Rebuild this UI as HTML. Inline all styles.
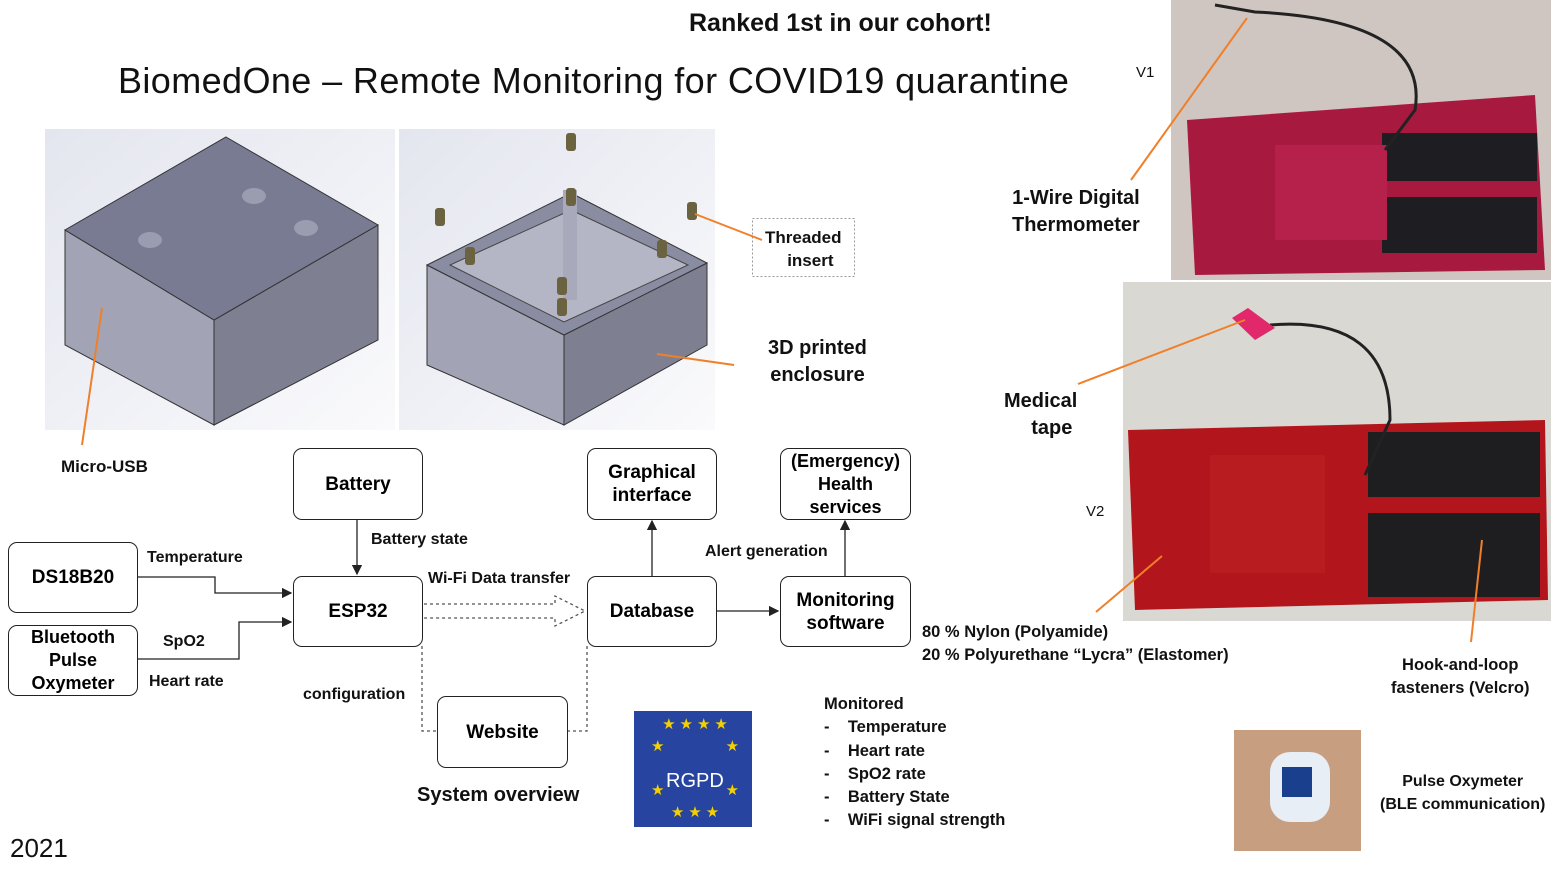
<!DOCTYPE html>
<html><head><meta charset="utf-8"><style>
body{margin:0;width:1551px;height:873px;background:#fff;position:relative;overflow:hidden;font-family:"Liberation Sans",sans-serif;}
.t{position:absolute;white-space:nowrap;color:#111}
.b{position:absolute;border:1.3px solid #222;border-radius:9px;display:flex;align-items:center;justify-content:center;text-align:center;font-weight:bold;font-size:19px;line-height:23px;background:#fff;box-sizing:border-box}
.l{font-weight:bold;font-size:16px}
</style></head><body>
<svg width="1551" height="873" style="position:absolute;left:0;top:0">
<defs>
<linearGradient id="bg" x1="0" y1="0" x2="1" y2="1"><stop offset="0" stop-color="#e4e6ef"/><stop offset="1" stop-color="#fafafc"/></linearGradient>
<marker id="a" markerWidth="8" markerHeight="8" refX="7" refY="4" orient="auto"><path d="M0,0L8,4L0,8z" fill="#222"/></marker>
</defs>
<rect x="45" y="129" width="350" height="301" fill="url(#bg)"/>
<rect x="399" y="129" width="316" height="301" fill="url(#bg)"/>
<polygon points="65,230 214,320 214,425 65,345" fill="#a2a4b6" stroke="#333"/>
<polygon points="214,320 378,225 378,340 214,425" fill="#7e8092" stroke="#333"/>
<polygon points="226,137 378,225 214,320 65,230" fill="#797b93" stroke="#333"/>
<ellipse cx="254" cy="196" rx="12" ry="8" fill="#9a9cb0"/><ellipse cx="306" cy="228" rx="12" ry="8" fill="#9a9cb0"/><ellipse cx="150" cy="240" rx="12" ry="8" fill="#9a9cb0"/>
<polygon points="427,265 564,335 564,425 427,365" fill="#a2a4b6" stroke="#333"/>
<polygon points="564,335 707,263 707,345 564,425" fill="#7e8092" stroke="#333"/>
<polygon points="571,193 707,263 564,335 427,265" fill="#8a8ca2" stroke="#333"/>
<polygon points="571,210 688,265 564,322 450,265" fill="#b4b6c6" stroke="#444"/>
<rect x="563" y="190" width="14" height="110" fill="#a8aabc"/>
<g fill="#6b6240"><rect x="566" y="133" width="10" height="18" rx="3"/><rect x="435" y="208" width="10" height="18" rx="3"/><rect x="687" y="202" width="10" height="18" rx="3"/><rect x="465" y="247" width="10" height="18" rx="3"/><rect x="657" y="240" width="10" height="18" rx="3"/><rect x="566" y="188" width="10" height="18" rx="3"/><rect x="557" y="277" width="10" height="18" rx="3"/><rect x="557" y="298" width="10" height="18" rx="3"/></g>
<rect x="752.5" y="218.5" width="102" height="58" fill="none" stroke="#999" stroke-dasharray="2,2"/>
<rect x="1171" y="0" width="380" height="280" fill="#cfc6c2"/>
<path d="M1187,120 L1535,95 L1545,270 L1195,275 Z" fill="#a8193f"/>
<rect x="1382" y="133" width="155" height="48" fill="#1e1e22"/><rect x="1382" y="197" width="155" height="56" fill="#1e1e22"/>
<rect x="1275" y="145" width="112" height="95" fill="#b5214a"/>
<path d="M1215,5 L1255,12 Q1430,20 1415,110 L1385,150" stroke="#222" stroke-width="3" fill="none"/>
<rect x="1123" y="282" width="428" height="339" fill="#dad8d3"/>
<path d="M1128,430 L1545,420 L1548,600 L1135,610 Z" fill="#b2161c"/>
<rect x="1368" y="432" width="172" height="65" fill="#1e1e20"/><rect x="1368" y="513" width="172" height="84" fill="#1e1e20"/>
<rect x="1210" y="455" width="115" height="118" fill="#b81b20"/>
<path d="M1270,325 Q1390,315 1390,420 L1365,475" stroke="#222" stroke-width="3" fill="none"/>
<path d="M1232,318 L1248,308 L1275,328 L1255,340 Z" fill="#e0286a"/>
<rect x="1234" y="730" width="127" height="121" fill="#c89e80"/>
<rect x="1270" y="752" width="60" height="70" rx="20" fill="#e8eef5"/><rect x="1282" y="767" width="30" height="30" fill="#1a3f8c"/>
<rect x="634" y="711" width="118" height="116" fill="#2745a0"/>
<g stroke="#f07f2a" stroke-width="2" fill="none">
<line x1="102" y1="308" x2="82" y2="445"/><line x1="695" y1="214" x2="762" y2="240"/><line x1="657" y1="354" x2="734" y2="365"/>
<line x1="1247" y1="18" x2="1131" y2="180"/><line x1="1245" y1="320" x2="1078" y2="384"/><line x1="1162" y1="556" x2="1096" y2="612"/><line x1="1482" y1="540" x2="1471" y2="642"/>
</g>
<g stroke="#222" stroke-width="1.3" fill="none">
<line x1="357" y1="519" x2="357" y2="574" marker-end="url(#a)"/>
<path d="M137,577 H215 V593 H291" marker-end="url(#a)"/>
<path d="M137,659 H239 V622 H291" marker-end="url(#a)"/>
<line x1="652" y1="576" x2="652" y2="521" marker-end="url(#a)"/>
<line x1="845" y1="576" x2="845" y2="521" marker-end="url(#a)"/>
<line x1="717" y1="611" x2="778" y2="611" marker-end="url(#a)"/>
<g stroke-dasharray="3,3" stroke="#555"><path d="M424,604 H555 V596 L585,611 L555,626 V618 H424"/><path d="M422,646 V731 H437"/><path d="M587,646 V731 H567"/></g>
</g>
</svg>
<div class="t" style="left:689px;top:9px;font-size:25px;font-weight:bold">Ranked 1st in our cohort!</div>
<div class="t" style="left:118px;top:60px;font-size:36px;letter-spacing:0.4px">BiomedOne – Remote Monitoring for COVID19 quarantine</div>
<div class="t" style="left:1136px;top:64px;font-size:15px">V1</div>
<div class="t" style="left:1086px;top:503px;font-size:15px">V2</div>
<div class="t l" style="left:61px;top:457px;font-size:17px">Micro-USB</div>
<div class="t l" style="left:765px;top:226px;font-size:17px;text-align:center;line-height:23px">Threaded<br>&nbsp;&nbsp;&nbsp;insert</div>
<div class="t l" style="left:768px;top:335px;font-size:20px;text-align:center;line-height:27px">3D printed<br>enclosure</div>
<div class="t l" style="left:1012px;top:185px;font-size:20px;text-align:center;line-height:27px">1-Wire Digital<br>Thermometer</div>
<div class="t l" style="left:1004px;top:388px;font-size:20px;text-align:center;line-height:27px">Medical<br>&nbsp;&nbsp;&nbsp;&nbsp;tape</div>
<div class="t l" style="left:922px;top:621px;font-size:16.5px;line-height:23px">80 % Nylon (Polyamide)<br>20 % Polyurethane “Lycra” (Elastomer)</div>
<div class="t l" style="left:1391px;top:654px;font-size:16.5px;text-align:center;line-height:23px">Hook-and-loop<br>fasteners (Velcro)</div>
<div class="t l" style="left:1380px;top:770px;font-size:16px;text-align:center;line-height:23px">Pulse Oxymeter<br>(BLE communication)</div>
<div class="t l" style="left:824px;top:693px;font-size:16.5px;line-height:23.3px">Monitored<br>-&nbsp;&nbsp;&nbsp;&nbsp;Temperature<br>-&nbsp;&nbsp;&nbsp;&nbsp;Heart rate<br>-&nbsp;&nbsp;&nbsp;&nbsp;SpO2 rate<br>-&nbsp;&nbsp;&nbsp;&nbsp;Battery State<br>-&nbsp;&nbsp;&nbsp;&nbsp;WiFi signal strength</div>
<div class="t l" style="left:417px;top:784px;font-size:20px">System overview</div>
<div class="t" style="left:10px;top:833px;font-size:26px">2021</div>
<div class="t" style="left:666px;top:770px;font-size:20px;color:#fff">RGPD</div>
<div class="t" style="left:642px;top:714px;font-size:15px;color:#f5d000;letter-spacing:4px;line-height:22px;width:110px;white-space:normal;text-align:center">★★★★<br>★&nbsp;&nbsp;&nbsp;&nbsp;&nbsp;&nbsp;&nbsp;★<br><br>★&nbsp;&nbsp;&nbsp;&nbsp;&nbsp;&nbsp;&nbsp;★<br>★★★</div>
<div class="b" style="left:293px;top:448px;width:130px;height:72px">Battery</div>
<div class="b" style="left:293px;top:576px;width:130px;height:71px">ESP32</div>
<div class="b" style="left:8px;top:542px;width:130px;height:71px">DS18B20</div>
<div class="b" style="left:8px;top:625px;width:130px;height:71px;font-size:18px">Bluetooth<br>Pulse<br>Oxymeter</div>
<div class="b" style="left:587px;top:448px;width:130px;height:72px">Graphical<br>interface</div>
<div class="b" style="left:780px;top:448px;width:131px;height:72px;font-size:18px">(Emergency)<br>Health<br>services</div>
<div class="b" style="left:587px;top:576px;width:130px;height:71px">Database</div>
<div class="b" style="left:780px;top:576px;width:131px;height:71px">Monitoring<br>software</div>
<div class="b" style="left:437px;top:696px;width:131px;height:72px">Website</div>
<div class="t l" style="left:371px;top:531px">Battery state</div>
<div class="t l" style="left:147px;top:549px">Temperature</div>
<div class="t l" style="left:163px;top:633px">SpO2</div>
<div class="t l" style="left:149px;top:673px">Heart rate</div>
<div class="t l" style="left:428px;top:570px">Wi-Fi Data transfer</div>
<div class="t l" style="left:705px;top:543px">Alert generation</div>
<div class="t l" style="left:303px;top:686px">configuration</div>
</body></html>
